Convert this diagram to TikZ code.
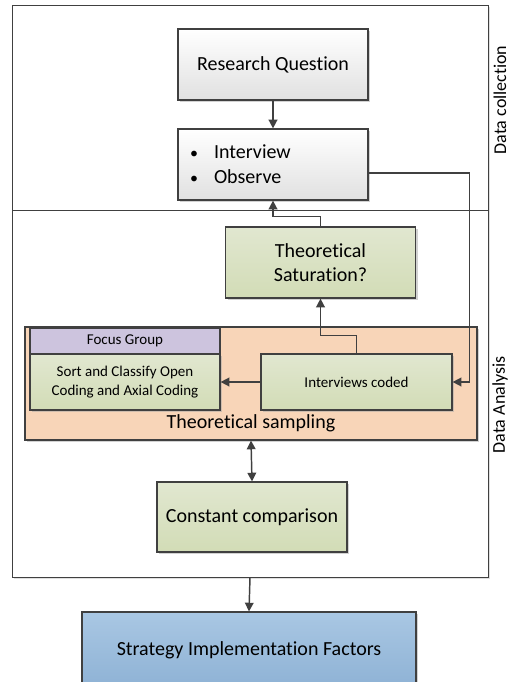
\documentclass[tikz,border=0pt]{standalone}
\usepackage{fontspec}
\setmainfont{Carlito}[Ligatures=NoCommon]
\usetikzlibrary{arrows.meta, positioning, shadows, backgrounds}
\usepackage{xcolor}
\definecolor{linegrey}{HTML}{404040}
\definecolor{greentop}{HTML}{E1E7D0}
\definecolor{greenbot}{HTML}{D2DCB6}
\definecolor{focuspurple}{HTML}{CDC4DE}
\definecolor{samplingorange}{HTML}{F8D5B8}
\definecolor{bluetop}{HTML}{A9C7E3}
\definecolor{bluebot}{HTML}{8EB2D5}
\newcommand{\dotitem}{\makebox[19pt][l]{\hspace{1pt}{\fontsize{12}{12}\selectfont\textbullet}}}

\begin{document}
\begin{tikzpicture}[
      x=0.75pt, y=-0.75pt,
      shade/.style={drop shadow={shadow xshift=1.6pt, shadow yshift=-1.6pt, fill=black!35}},
      box/.style={rectangle, draw=linegrey, line width=0.9pt, minimum width=142.5pt, minimum height=53.25pt, align=center, font=\fontsize{15}{18.5}\selectfont, shade},
      greybox/.style={box, top color=white, bottom color=black!12},
      greenbox/.style={box, top color=greentop, bottom color=greenbot},
      smallbox/.style={greenbox, font=\fontsize{11.25}{14}\selectfont, minimum height=42pt},
      frame/.style={rectangle, draw=linegrey, line width=0.7pt, minimum width=357pt, drop shadow={shadow xshift=1.4pt, shadow yshift=-1.4pt, fill=black!25}},
      side/.style={rotate=90, font=\fontsize{13.5}{16}\selectfont},
      arrow/.style={line width=1.1pt, draw=linegrey, -{Triangle[length=6.5pt, width=6.5pt]}}
    ]
    \useasboundingbox (0,0) rectangle (510,682);
    \clip (0,0) rectangle (510,682);

    % Frames
    \node (collect) [frame, fill=white, minimum height=153.75pt] at (250,107.5) {};
    \node (analysis) [frame, fill=white, minimum height=275.25pt] at (250,393.5) {};
    \node (collectlabel) [side] at (500,100) {Data collection};
    \node (analysislabel) [side] at (500,405) {Data Analysis};

    % Theoretical sampling
    \node (sampling) [rectangle, draw=linegrey, line width=0.9pt, fill=samplingorange, minimum width=339pt, minimum height=84.75pt, shade] at (251,383.5) {};
    \node (samplinglabel) [font=\fontsize{15}{18}\selectfont] at (251,423) {Theoretical sampling};

    % Boxes
    \node (rq) [greybox] at (273,64.5) {Research Question};
    \node (interview) [greybox, text width=126.5pt, inner xsep=8pt, align=left] at (273,164.5) {\dotitem Interview\\\dotitem Observe};
    \node (saturation) [greenbox] at (320.5,262.5) {Theoretical\\Saturation?};
    \node (sortbox) [smallbox] at (125,382) {Sort and Classify Open\\Coding and Axial Coding};
    \node (focus) [rectangle, draw=linegrey, line width=0.9pt, fill=focuspurple, minimum width=142.5pt, minimum height=19.5pt, font=\fontsize{11.25}{14}\selectfont] at (125,341) {Focus Group};
    \node (coded) [smallbox, minimum width=143.25pt] at (356.5,382) {Interviews coded};
    \node (constant) [greenbox, minimum height=52.5pt] at (252,517) {Constant comparison};
    \node (strategy) [box, top color=bluetop, bottom color=bluebot, minimum width=250.5pt, minimum height=57pt] at (249,650) {Strategy Implementation Factors};

    % Connections
    \draw [arrow] (rq) -- (interview);
    \draw [arrow] (saturation.north) -- ++(0,-10) -| (interview.south);
    \draw [arrow] (coded.north) -- ++(0,-18) -| (saturation.south);
    \draw [arrow] (coded) -- (sortbox);
    \draw [arrow] ([yshift=-6.4pt]interview.east) -- ++(101,0) |- (coded.east);
    \draw [arrow, {Triangle[length=6.5pt, width=6.5pt]}-{Triangle[length=6.5pt, width=6.5pt]}] (sampling.south) -- (constant.north);
    \draw [arrow] (analysis.south) -- (strategy.north);

  \end{tikzpicture}
\end{document}
